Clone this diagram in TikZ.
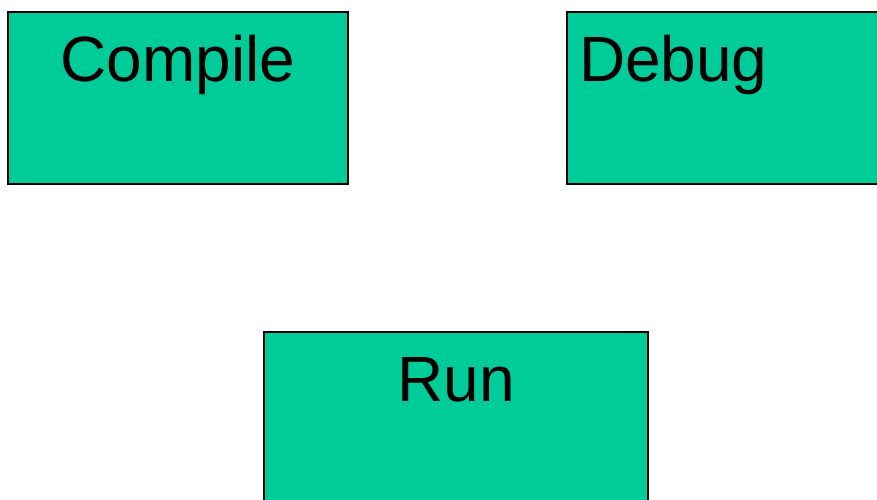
\documentclass[tikz,border=0pt]{standalone}
\usepackage{fontspec}
\setmainfont{Liberation Sans}
\usepackage{xcolor}
\definecolor{stagegreen}{HTML}{00CC99}
\usepackage{tikz}
\usetikzlibrary{positioning}
\tikzset{
  every picture/.style={line width=2pt},
  stage/.style={draw=black, fill=stagegreen, inner ysep=0pt, inner xsep=#1,
    text width=340pt-2*#1, text height=69pt, text depth=103pt,
    font=\fontsize{64}{64}\selectfont},
  stage/.default=0pt,
}

\begin{document}
\begin{tikzpicture}[x=1pt, y=-1pt]
  \path[use as bounding box, clip] (0,0) rectangle (877,499);
  \node[stage, align=center, anchor=north west] (compile) at (7,11) {Compile};
  \node[stage=12pt, align=left, right=217pt of compile] (debug) {Debug};
  \node[stage, align=center, text width=384pt, anchor=north west] (run) at (263,331) {Run};
\end{tikzpicture}
\end{document}
